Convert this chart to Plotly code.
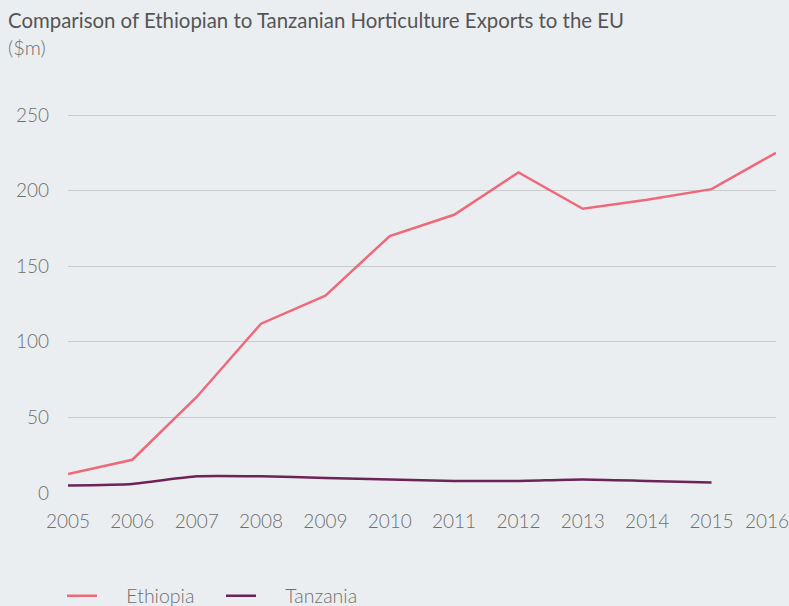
import plotly.graph_objects as go

years = [2005, 2006, 2007, 2008, 2009, 2010, 2011, 2012, 2013, 2014, 2015, 2016]
ethiopia = [12.5, 22, 63.5, 112, 130.5, 170, 184, 212, 188, 194, 201, 225]
tanzania_years = [2005, 2006, 2007, 2008, 2009, 2010, 2011, 2012, 2013, 2014, 2015]
tanzania = [5, 6, 11, 11, 10, 9, 8, 8, 9, 8, 7]
y_ticks = [0, 50, 100, 150, 200, 250]
x_ticklabels = [str(y) for y in years]

title_text = "Comparison of Ethiopian to Tanzanian Horticulture Exports to the EU"
unit_text = "($m)"

BG = "#EBEEF1"
TXT = "#6E6E6E"
FONT = "Lato"

Y_TOP = 252  # a little headroom so the 250 gridline is drawn
PLOT_H = 378 * Y_TOP / 250

# the last year label is drawn as an annotation nudged left so it stays inside the page
tick_text = x_ticklabels[:-1] + [""]

fig = go.Figure()
fig.add_trace(go.Scatter(x=years, y=ethiopia, mode="lines", name="\u2003\u2002Ethiopia",
                         line=dict(color="#EE6A7B", width=2.5)))
fig.add_trace(go.Scatter(x=tanzania_years, y=tanzania, mode="lines", name="\u2003\u2002Tanzania",
                         line=dict(color="#6D2357", width=2.5, shape="spline", smoothing=0.5)))

top_margin = 493 - PLOT_H

fig.update_layout(
    width=789, height=606,
    paper_bgcolor=BG, plot_bgcolor=BG,
    margin=dict(l=68, r=13, t=top_margin, b=113, autoexpand=False),
    font=dict(family=FONT, color=TXT, size=18, weight=300),
    showlegend=True,
    legend=dict(orientation="h", x=-6/708, xanchor="left", y=-103/PLOT_H, yanchor="middle",
                font=dict(size=19.5, color=TXT, weight=300), bgcolor="rgba(0,0,0,0)",
                entrywidth=114, entrywidthmode="pixels", traceorder="normal"),
    xaxis=dict(range=[2005, 2016.002], tickmode="array", tickvals=years,
               ticktext=tick_text, showgrid=False, zeroline=False,
               showline=False, ticks="", tickfont=dict(size=19, color=TXT, weight=300),
               ticklabelstandoff=15, ticklabeloverflow="allow"),
    yaxis=dict(range=[0, Y_TOP], tickmode="array", tickvals=y_ticks,
               ticktext=[str(v) for v in y_ticks], showgrid=True, gridcolor="#C9CBCE",
               gridwidth=1, zeroline=False, showline=False, ticks="",
               tickfont=dict(size=19, color=TXT, weight=300), ticklabelstandoff=18),
    annotations=[
        dict(text=title_text, xref="paper", yref="paper", x=-62/708, y=1 + (top_margin - 20)/PLOT_H,
             xanchor="left", yanchor="middle", showarrow=False,
             font=dict(size=20.4, color="#555555", family=FONT, weight=400)),
        dict(text=unit_text, xref="paper", yref="paper", x=-62/708, y=1 + (top_margin - 47)/PLOT_H,
             xanchor="left", yanchor="middle", showarrow=False,
             font=dict(size=20, color=TXT, family=FONT, weight=300)),
        dict(text=x_ticklabels[-1], xref="x", yref="paper", x=years[-1], y=-28/PLOT_H,
             xanchor="center", yanchor="middle", xshift=-9, showarrow=False,
             font=dict(size=19, color=TXT, family=FONT, weight=300)),
    ],
)

fig.write_html("out.html", config={"displayModeBar": False},
               post_script="document.body.style.margin='0';document.body.style.background='%s';" % BG)
